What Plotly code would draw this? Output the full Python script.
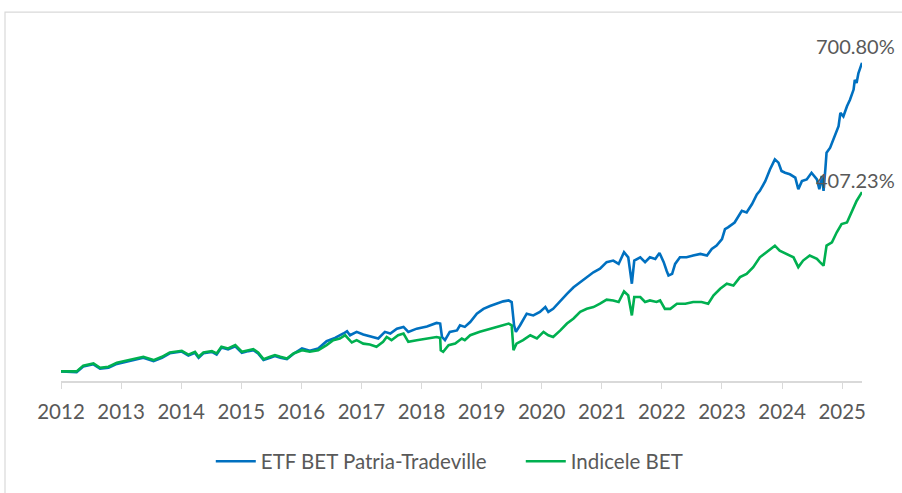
import plotly.graph_objects as go

# Decimal-year positions and cumulative returns (%)
etf_t = [2012.00, 2012.12, 2012.26, 2012.37, 2012.54, 2012.65, 2012.79, 2012.93, 2013.09, 2013.23,
         2013.37, 2013.54, 2013.68, 2013.81, 2014.01, 2014.12, 2014.23, 2014.29, 2014.37, 2014.51,
         2014.59, 2014.67, 2014.78, 2014.90, 2015.01, 2015.12, 2015.20, 2015.28, 2015.37, 2015.48,
         2015.56, 2015.65, 2015.76, 2015.87, 2016.01, 2016.14, 2016.28, 2016.42, 2016.56, 2016.70,
         2016.76, 2016.81, 2016.92, 2017.03, 2017.17, 2017.28, 2017.39, 2017.48, 2017.59, 2017.70,
         2017.78, 2017.92, 2018.09, 2018.25, 2018.31, 2018.34, 2018.39, 2018.47, 2018.59, 2018.64,
         2018.72, 2018.81, 2018.92, 2019.03, 2019.14, 2019.25, 2019.36, 2019.45, 2019.50, 2019.54,
         2019.57, 2019.64, 2019.75, 2019.86, 2019.97, 2020.06, 2020.11, 2020.19, 2020.31, 2020.42,
         2020.53, 2020.64, 2020.75, 2020.86, 2020.97, 2021.08, 2021.19, 2021.28, 2021.37, 2021.44,
         2021.50, 2021.54, 2021.64, 2021.72, 2021.80, 2021.89, 2021.96, 2022.03, 2022.08, 2022.11,
         2022.17, 2022.22, 2022.30, 2022.41, 2022.52, 2022.64, 2022.75, 2022.83, 2022.91, 2023.00,
         2023.05, 2023.10, 2023.21, 2023.33, 2023.41, 2023.50, 2023.58, 2023.63, 2023.72, 2023.80,
         2023.88, 2023.94, 2023.99, 2024.05, 2024.13, 2024.22, 2024.27, 2024.33, 2024.41, 2024.49,
         2024.58, 2024.62, 2024.66, 2024.69, 2024.72, 2024.74, 2024.80, 2024.88, 2024.94, 2024.97,
         2025.02, 2025.08, 2025.13, 2025.19, 2025.21, 2025.24, 2025.27, 2025.33]
etf_v = [0, -1, -2, 11, 16, 6, 8, 17, 22, 27,
         31, 23, 31, 41, 45, 36, 42, 31, 41, 44,
         38, 54, 50, 57, 42, 46, 48, 41, 26, 31,
         35, 31, 28, 40, 52, 46.7, 52, 68.5, 76, 86,
         91, 82, 89.7, 83.6, 78, 74.6, 89.7, 86, 97, 101,
         89.7, 97, 102, 110, 108.5, 78, 70.8, 89.7, 93, 104.7,
         101, 112, 131, 142, 148.5, 153.7, 159, 161, 157.5, 104.7,
         89.7, 104.7, 131, 127, 135, 146, 135, 142, 161, 176,
         191, 203, 214, 225, 233, 248, 251.6, 244, 270.6, 259,
         199, 251.6, 259, 248, 259, 255.4, 269, 248, 228, 217.7,
         221.5, 244, 259, 259, 263, 266.7, 263, 278, 285.5, 300.6,
         323, 327, 338, 364.6, 361, 380, 402, 410, 432, 459,
         481.5, 474, 455, 451, 447.6, 440, 413.7, 432, 436, 451,
         436, 413.7, 444, 410, 459, 496.6, 508, 534, 557, 587,
         579, 602, 617, 640, 662, 655, 677, 700.80]

bet_t = [2012.00, 2012.12, 2012.26, 2012.37, 2012.54, 2012.65, 2012.79, 2012.93, 2013.09, 2013.23,
         2013.37, 2013.54, 2013.68, 2013.81, 2014.01, 2014.12, 2014.23, 2014.29, 2014.37, 2014.51,
         2014.59, 2014.67, 2014.78, 2014.90, 2015.01, 2015.12, 2015.20, 2015.28, 2015.37, 2015.48,
         2015.56, 2015.65, 2015.76, 2015.87, 2016.01, 2016.14, 2016.28, 2016.42, 2016.53, 2016.64,
         2016.73, 2016.78, 2016.84, 2016.92, 2017.03, 2017.14, 2017.25, 2017.36, 2017.42, 2017.50,
         2017.61, 2017.70, 2017.78, 2017.92, 2018.09, 2018.25, 2018.31, 2018.32, 2018.36, 2018.45,
         2018.56, 2018.67, 2018.72, 2018.81, 2018.97, 2019.14, 2019.31, 2019.45, 2019.50, 2019.53,
         2019.58, 2019.69, 2019.81, 2019.92, 2020.03, 2020.11, 2020.19, 2020.31, 2020.42, 2020.53,
         2020.64, 2020.75, 2020.86, 2020.97, 2021.08, 2021.19, 2021.28, 2021.37, 2021.44, 2021.50,
         2021.54, 2021.64, 2021.72, 2021.80, 2021.91, 2021.97, 2022.05, 2022.14, 2022.25, 2022.39,
         2022.52, 2022.66, 2022.77, 2022.86, 2022.97, 2023.08, 2023.19, 2023.30, 2023.41, 2023.52,
         2023.63, 2023.74, 2023.88, 2023.96, 2024.08, 2024.19, 2024.27, 2024.35, 2024.46, 2024.58,
         2024.63, 2024.69, 2024.74, 2024.83, 2024.91, 2024.99, 2025.08, 2025.16, 2025.24, 2025.33]
bet_v = [0, 0.7, 0, 13, 18, 8, 10.6, 19.6, 24, 29,
         33, 25.6, 33, 43, 46.7, 38, 44.5, 33, 43, 46,
         40.7, 56, 52, 59.5, 44.5, 48, 50.5, 43, 27.8, 33,
         37, 33, 29, 40.7, 48, 44.5, 48, 59.5, 70.8, 74.6,
         82, 74.6, 65.5, 70.8, 63, 61, 56, 67, 78, 70.8,
         82, 86, 67, 70.8, 74.6, 78, 76, 48, 44.5, 59.5,
         63, 74.6, 70.8, 82, 89.7, 97, 103, 108.5, 104.7, 48,
         63, 70.8, 82, 74.6, 89.7, 82, 78, 93, 108.5, 120,
         135, 142, 146, 153.7, 163, 161, 157.5, 181.5, 172.5, 127,
         168.8, 168.8, 157.5, 161, 157.5, 161, 142, 142, 153.7, 153.7,
         157.5, 157.5, 153.7, 172.5, 187.6, 199, 195, 214, 221.5, 236.7,
         259, 270.6, 285.5, 274, 266.7, 259, 236.7, 251.6, 263, 255.4,
         248, 240, 285.5, 293, 315.8, 334.5, 338, 364.6, 387, 407.23]

years = list(range(2012, 2026))
year_labels = [str(y) for y in years]

BLUE = "#0070C0"
GREEN = "#00B050"
FONT = "Lato, 'Open Sans', sans-serif"

fig = go.Figure()
fig.add_trace(go.Scatter(x=etf_t, y=etf_v, mode="lines", name="ETF BET Patria-Tradeville",
                         line=dict(color=BLUE, width=2.6)))
fig.add_trace(go.Scatter(x=bet_t, y=bet_v, mode="lines", name="Indicele BET",
                         line=dict(color=GREEN, width=2.6)))

fig.add_annotation(x=etf_t[-1], y=etf_v[-1], text=f"{etf_v[-1]:.2f}%", showarrow=False,
                   xanchor="left", xshift=-47, yanchor="bottom", yshift=4, borderpad=0,
                   font=dict(size=20, color="#595959", family=FONT))
fig.add_annotation(x=bet_t[-1], y=bet_v[-1], text=f"{bet_v[-1]:.2f}%", showarrow=False,
                   xanchor="left", xshift=-47, yanchor="bottom", yshift=-1, borderpad=0,
                   font=dict(size=20, color="#595959", family=FONT))

# chart-area border
fig.add_shape(type="rect", xref="paper", yref="paper", x0=-0.0699, x1=1.3, y0=-0.5, y1=1.051,
              line=dict(color="#D9D9D9", width=1.2), fillcolor="rgba(0,0,0,0)", layer="below")

fig.update_layout(
    width=902, height=493,
    margin=dict(l=61, r=40, t=30, b=110),
    paper_bgcolor="white", plot_bgcolor="white",
    font=dict(family=FONT, color="#595959", size=20.5),
    showlegend=True,
    legend=dict(orientation="h", x=0.187, xanchor="left", y=-0.229, yanchor="middle",
                font=dict(size=20.5, color="#595959", family=FONT), itemwidth=40,
                entrywidth=255, entrywidthmode="pixels",
                traceorder="normal"),
    xaxis=dict(range=[2012, 2025.33], tickmode="array", tickvals=years, ticktext=year_labels,
               showgrid=False, zeroline=False, showline=True, linecolor="#D9D9D9", linewidth=1.5,
               ticks="outside", ticklen=6, tickcolor="#D9D9D9", tickwidth=1.2,
               ticklabelstandoff=6,
               tickfont=dict(size=20.5, color="#595959", family=FONT)),
    yaxis=dict(range=[-21.9, 775.3], visible=False, showgrid=False, zeroline=False),
)

fig.write_html("out.html")
